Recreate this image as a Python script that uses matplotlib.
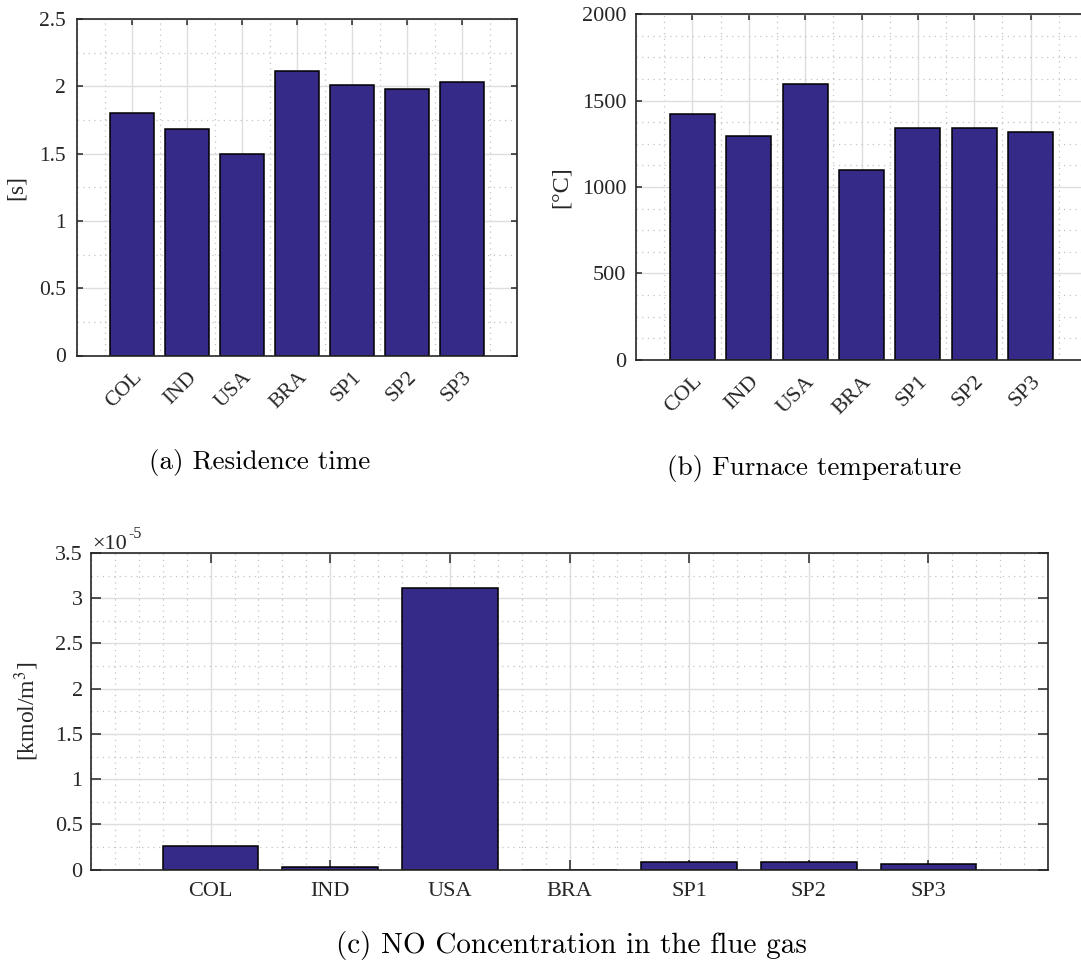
import matplotlib
matplotlib.use("Agg")
import matplotlib.pyplot as plt
from matplotlib.ticker import MultipleLocator, FuncFormatter

# ---- data ----
categories = ['COL', 'IND', 'USA', 'BRA', 'SP1', 'SP2', 'SP3']
residence_time = [1.80, 1.68, 1.50, 2.11, 2.01, 1.98, 2.03]          # [s]
furnace_temp = [1423, 1297, 1597, 1100, 1340, 1344, 1320]            # [°C]
no_conc = [0.262e-5, 0.026e-5, 3.11e-5, 0.0, 0.081e-5, 0.085e-5, 0.063e-5]  # [kmol/m3]

captions = ['(a) Residence time', '(b) Furnace temperature',
            '(c) NO Concentration in the flue gas']

BAR = '#352A87'
TICKFONT = 'Liberation Serif'
CAPFONT = 'cmr10'
plt.rcParams['mathtext.fontset'] = 'stix'
plt.rcParams['axes.formatter.use_mathtext'] = True

W, H = 1081, 967
fig = plt.figure(figsize=(W / 100, H / 100), dpi=100)


def box(l, t, r, b):
    return [l / W, 1 - b / H, (r - l) / W, (b - t) / H]


def style(ax, ymin_loc, xmin_loc, fs, ticklen, ypad, xpad):
    ax.set_axisbelow(True)
    ax.yaxis.set_minor_locator(MultipleLocator(ymin_loc))
    ax.xaxis.set_minor_locator(MultipleLocator(xmin_loc))
    ax.grid(True, which='major', color='#dedede', linewidth=1.0, linestyle='-')
    ax.grid(True, which='minor', color='#c4c4c4', linewidth=0.9, linestyle=(0, (1, 3.5)))
    ax.tick_params(which='major', direction='in', top=True, right=True,
                   length=ticklen, width=1.1, color='#262626',
                   labelsize=fs, labelcolor='#262626')
    ax.tick_params(axis='y', which='major', pad=ypad)
    ax.tick_params(axis='x', which='major', pad=xpad)
    ax.tick_params(which='minor', length=0, top=True, right=True)
    for s in ax.spines.values():
        s.set_color('#262626')
        s.set_linewidth(1.2)
    for lab in ax.get_xticklabels() + ax.get_yticklabels():
        lab.set_fontfamily(TICKFONT)


def rotate(ax):
    for lab in ax.get_xticklabels():
        lab.set_rotation(45)
        lab.set_ha('right')
        lab.set_va('top')
        lab.set_rotation_mode('anchor')


x = list(range(1, len(categories) + 1))

# ---- (a) residence time ----
axa = fig.add_axes(box(77.3, 19, 517.3, 355.5))
axa.bar(x, residence_time, width=0.8, color=BAR, edgecolor='black', linewidth=1.1)
axa.set_xlim(0, 8)
axa.set_ylim(0, 2.5)
axa.set_yticks([0, 0.5, 1, 1.5, 2, 2.5])
axa.yaxis.set_major_formatter(FuncFormatter(lambda v, _: f'{v:g}'))
axa.set_xticks(x)
axa.set_xticklabels(categories)
style(axa, 0.25, 0.5, 15.5, 4, 8, 9)
rotate(axa)
axa.set_ylabel('[s]', fontfamily=TICKFONT, fontsize=17, color='#262626', labelpad=9)

# ---- (b) furnace temperature ----
axb = fig.add_axes(box(636, 14.3, 1087, 359.7))
axb.bar(x, furnace_temp, width=0.8, color=BAR, edgecolor='black', linewidth=1.1)
axb.set_xlim(0, 8)
axb.set_ylim(0, 2000)
axb.set_yticks([0, 500, 1000, 1500, 2000])
axb.yaxis.set_major_formatter(FuncFormatter(lambda v, _: f'{v:g}'))
axb.set_xticks(x)
axb.set_xticklabels(categories)
style(axb, 125, 0.5, 16, 4, 7, 9)
rotate(axb)
axb.set_ylabel('[°C]', fontfamily=TICKFONT, fontsize=17.5, color='#262626', labelpad=7)

# ---- (c) NO concentration ----
axc = fig.add_axes(box(91, 553, 1048, 869.7))
axc.bar(x, no_conc, width=0.8, color=BAR, edgecolor='black', linewidth=1.1)
axc.set_xlim(0, 8)
axc.set_ylim(0, 3.5e-5)
axc.set_yticks([i * 0.5e-5 for i in range(8)])
axc.yaxis.set_major_formatter(FuncFormatter(lambda v, _: f'{v / 1e-5:g}'))
axc.set_xticks(x)
axc.set_xticklabels(categories)
style(axc, 0.25e-5, 0.2, 16, 7, 6, 9)
axc.set_ylabel('[kmol/m$^3$]', fontfamily=TICKFONT, fontsize=17, color='#262626', labelpad=10)
fig.text(92 / W, 1 - 549 / H, '×10', fontfamily=TICKFONT, fontsize=16,
         color='#262626', ha='left', va='baseline')
fig.text(128 / W, 1 - 538 / H, '-5', fontfamily=TICKFONT, fontsize=11.5,
         color='#262626', ha='left', va='baseline')

# ---- captions ----
fig.text(260 / W, 1 - 463 / H, captions[0], fontfamily=CAPFONT, fontsize=19.5,
         ha='center', va='center', color='black')
fig.text(814 / W, 1 - 468 / H, captions[1], fontfamily=CAPFONT, fontsize=19.5,
         ha='center', va='center', color='black')
fig.text(571 / W, 1 - 945 / H, captions[2], fontfamily=CAPFONT, fontsize=21,
         ha='center', va='center', color='black')

fig.savefig('out.png', dpi=100)
